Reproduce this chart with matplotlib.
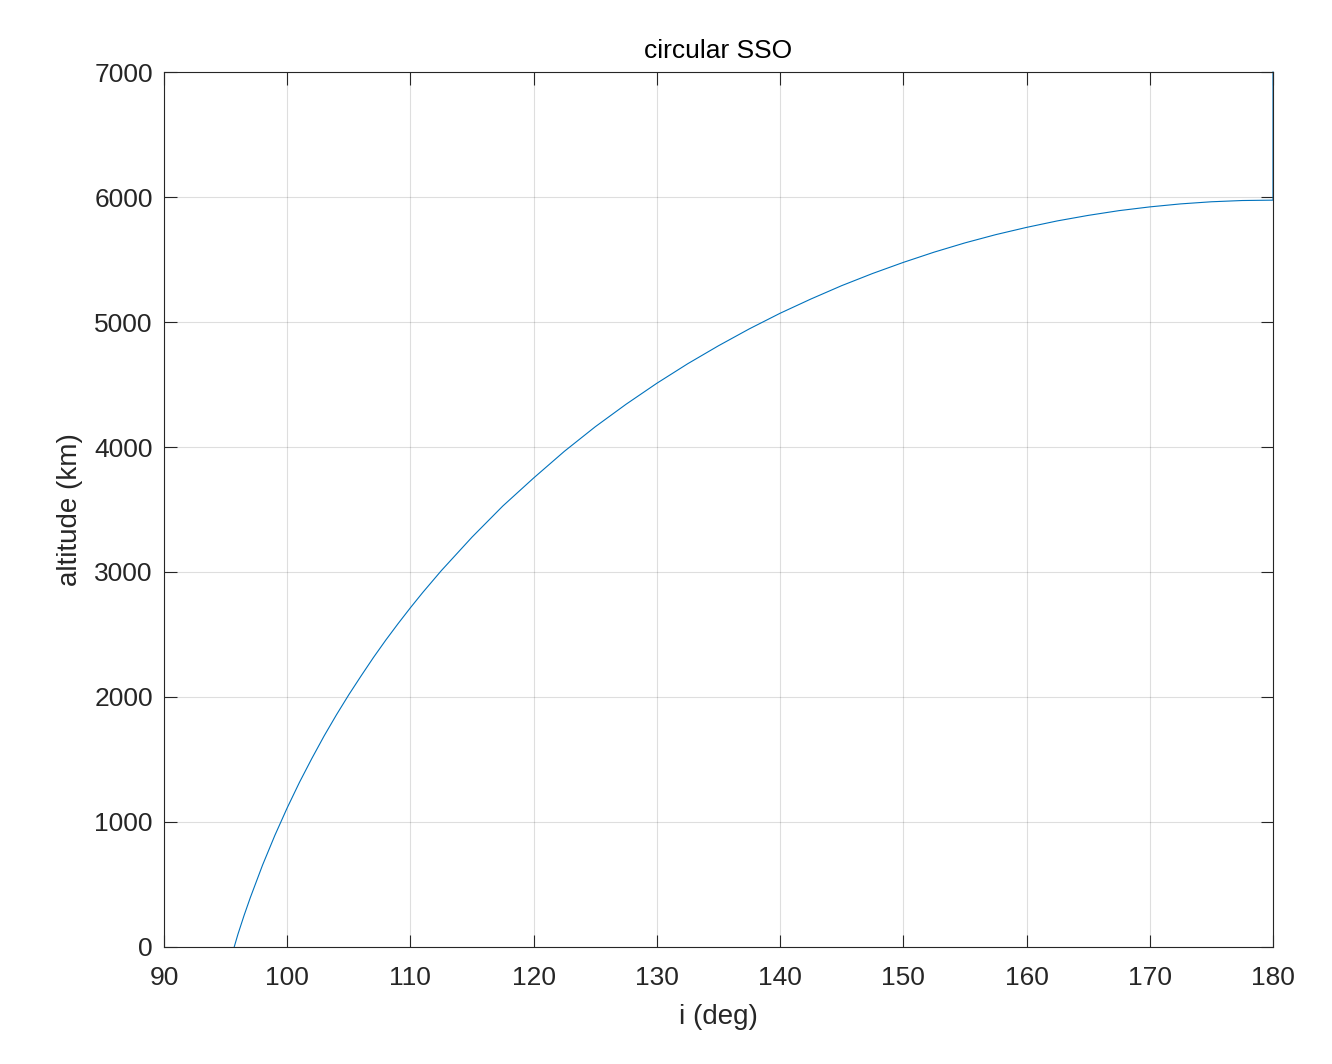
import matplotlib
matplotlib.use('Agg')
from matplotlib import pyplot as plt

# inclination (deg) and altitude (km)
incl = [95.7, 96, 96.5, 97, 98, 99, 100, 101, 102, 103, 104, 105, 106, 107, 108,
        109, 110, 111, 112.5, 115, 117.5, 120, 122.5, 125, 127.5, 130, 132.5,
        135, 137.5, 140, 142.5, 145, 147.5, 150, 152.5, 155, 157.5, 160, 162.5,
        165, 167.5, 170, 172.5, 175, 177.5, 180, 180]
alt = [0, 101, 252, 393, 655, 893, 1113, 1318, 1508, 1689, 1858, 2018, 2169, 2316,
       2455, 2587, 2714, 2836, 3010, 3279, 3528, 3752, 3966, 4162, 4342, 4510,
       4666, 4810, 4945, 5070, 5184, 5291, 5388, 5477, 5559, 5633, 5699, 5757,
       5809, 5853, 5891, 5921, 5945, 5962, 5972, 5975, 7000]

x_ticks = [90, 100, 110, 120, 130, 140, 150, 160, 170, 180]
y_ticks = [0, 1000, 2000, 3000, 4000, 5000, 6000, 7000]

plt.rcParams['font.family'] = ['Liberation Sans', 'DejaVu Sans']
txt = '#262626'

fig = plt.figure(figsize=(13.32, 10.64), dpi=100)
ax = fig.add_axes([0.1231, 0.110, 0.8326, 0.8223])

ax.plot(incl, alt, color='#0072BD', linewidth=0.8, clip_on=False)

ax.set_xlim(90, 180)
ax.set_ylim(0, 7000)
ax.set_xticks(x_ticks)
ax.set_yticks(y_ticks)
ax.grid(True, color='#000000', alpha=0.13, linewidth=0.8)
ax.tick_params(direction='in', length=9, width=0.8, top=True, right=True,
               labelsize=19, colors=txt, pad=8)
ax.tick_params(axis='x', pad=14)
for s in ax.spines.values():
    s.set_color(txt)
    s.set_linewidth(0.8)

ax.set_title('circular SSO', fontsize=19, color='black', pad=10)
ax.set_xlabel('i (deg)', fontsize=20, color=txt, labelpad=10)
ax.set_ylabel('altitude (km)', fontsize=20, color=txt, labelpad=8)

fig.savefig('out.png', dpi=100)
